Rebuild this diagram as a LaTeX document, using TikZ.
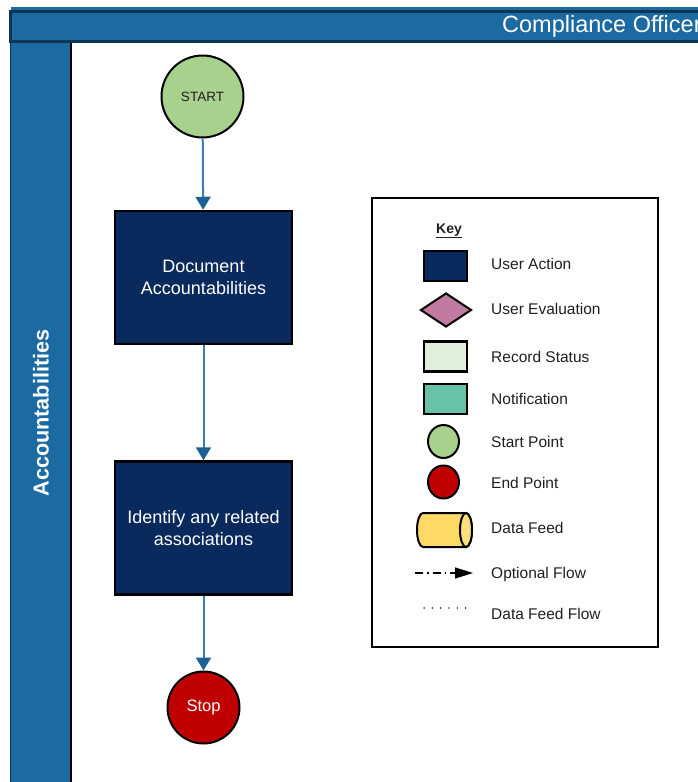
\documentclass[tikz,border=0pt]{standalone}
\usepackage{fontspec}
\setmainfont{Liberation Sans}
\usetikzlibrary{arrows.meta,shapes.geometric}
\definecolor{laneblue}{HTML}{1B6BA2}
\definecolor{laneedge}{HTML}{0E3654}
\definecolor{navy}{HTML}{0A2A5E}
\definecolor{startgreen}{HTML}{A9D18E}
\definecolor{stopred}{HTML}{C00000}
\definecolor{evalpink}{HTML}{C27BA0}
\definecolor{statusgreen}{HTML}{E2EFDA}
\definecolor{notifteal}{HTML}{67C3A7}
\definecolor{feedyellow}{HTML}{FFD966}
\definecolor{flowline}{HTML}{3A7EB3}
\definecolor{flowhead}{HTML}{1D6194}
\definecolor{keytext}{HTML}{1F1F1F}

\begin{document}
\begin{tikzpicture}[x=1pt,y=-1pt,
  actionbox/.style={draw=black,line width=2.5pt,fill=navy,minimum width=177pt,
    minimum height=133pt,inner sep=0pt,text=white,align=center,
    font=\fontsize{18}{22}\selectfont},
  startnode/.style={circle,draw=black,line width=2pt,fill=startgreen,
    minimum size=82pt,inner sep=0pt,text=keytext,font=\fontsize{13.5}{15}\selectfont},
  stopnode/.style={circle,draw=black,line width=2pt,fill=stopred,
    minimum size=72pt,inner sep=0pt,text=white,font=\fontsize{16.5}{18}\selectfont},
  flow/.style={draw=flowline,line width=2pt,
    -{Triangle[width=15pt,length=13pt,fill=flowhead,color=flowhead]}},
  keyrect/.style={rectangle,draw=black,line width=2.5pt,minimum width=43pt,
    minimum height=30pt,inner sep=0pt},
  keyround/.style={ellipse,draw=black,line width=2pt,minimum width=31pt,
    minimum height=33pt,inner sep=0pt},
  keylabel/.style={anchor=base west,inner sep=0pt,text=keytext,
    font=\fontsize{15.5}{18}\selectfont},
  lanetitle/.style={text=white,inner sep=0pt}
]
\useasboundingbox (0,0) rectangle (698,782);
\clip (0,0) rectangle (698,782);

% swimlane header band
\fill[laneblue] (11,7) rectangle (705,43);
\draw[laneedge,line width=3pt,fill=laneblue] (10.5,11.5) rectangle (705,41.5);
\node[lanetitle,anchor=base west,font=\fontsize{23.5}{26}\selectfont] (lanehead) at (502,32.5) {Compliance Officer};

% row header column
\fill[laneblue] (10,43) rectangle (71,790);
\draw[laneedge,line width=1.2pt] (10.6,43) -- (10.6,790);
\draw[black,line width=1.5pt] (71,43) -- (71,790);
\node[lanetitle,rotate=90,font=\bfseries\fontsize{21.6}{24}\selectfont] (rowhead) at (41,413) {Accountabilities};

% process flow
\node[startnode] (start) at (202.5,96.5) {START};
\node[actionbox] (doc) at (203.5,277.5) {Document\\Accountabilities};
\node[actionbox] (assoc) at (203.5,528) {Identify any related\\associations};
\node[stopnode] (stop) at (203.5,707.5) {Stop};

\draw[flow] (start) -- (doc);
\draw[flow] (doc) -- (assoc);
\draw[flow] (assoc) -- (stop);

% legend
\node[draw=black,line width=2.5pt,minimum width=286pt,minimum height=449pt,inner sep=0pt] (keyframe) at (515,422.5) {};
\node[anchor=base,inner sep=0pt,text=keytext,font=\bfseries\fontsize{14}{16}\selectfont] (keytitle) at (449,233) {\underline{Key}};

\node[keyrect,fill=navy] (kaction) at (445.5,266) {};
\node[keylabel] (laction) at (491,269) {User Action};

\node[diamond,draw=black,line width=2pt,fill=evalpink,minimum width=51pt,minimum height=34pt,aspect=1.5,inner sep=0pt] (keval) at (446,310) {};
\node[keylabel] (leval) at (491,314) {User Evaluation};

\node[keyrect,fill=statusgreen] (kstatus) at (445.5,356.5) {};
\node[keylabel] (lstatus) at (491,362) {Record Status};

\node[keyrect,fill=notifteal] (knotif) at (445.5,399) {};
\node[keylabel] (lnotif) at (491,404) {Notification};

\node[keyround,fill=startgreen] (kstart) at (443.5,441.5) {};
\node[keylabel] (lstart) at (491,447) {Start Point};

\node[keyround,fill=stopred] (kend) at (443.5,482) {};
\node[keylabel] (lend) at (491,488) {End Point};

% data feed cylinder, lying on its side with the end face on the right
\coordinate (feedL) at (423,530);
\coordinate (feedR) at (466,530);
\draw[black,line width=2pt,fill=feedyellow,line join=round]
  (423,513) -- (466,513)
  arc[start angle=-90,end angle=90,x radius=6,y radius=17]
  -- (423,547)
  arc[start angle=90,end angle=270,x radius=6,y radius=17] -- cycle;
\draw[black,line width=2pt,fill=feedyellow!85!white] (feedR) ellipse[x radius=6,y radius=17];
\node[keylabel] (lfeed) at (491,533) {Data Feed};

\coordinate (optA) at (415,573);
\coordinate (optB) at (473,573);
\draw[black,line width=1.2pt,dash pattern=on 8pt off 4pt on 1.5pt off 4pt,
  -{Triangle[width=11pt,length=18pt,fill=black]}] (optA) -- (optB);
\node[keylabel] (lopt) at (491,578) {Optional Flow};

\coordinate (dfA) at (424,608);
\coordinate (dfB) at (468,608);
\draw[keytext,line width=1.3pt,line cap=round,dash pattern=on 0.1pt off 8.2pt] (dfA) -- (dfB);
\node[keylabel] (ldf) at (491,619) {Data Feed Flow};
\end{tikzpicture}
\end{document}
